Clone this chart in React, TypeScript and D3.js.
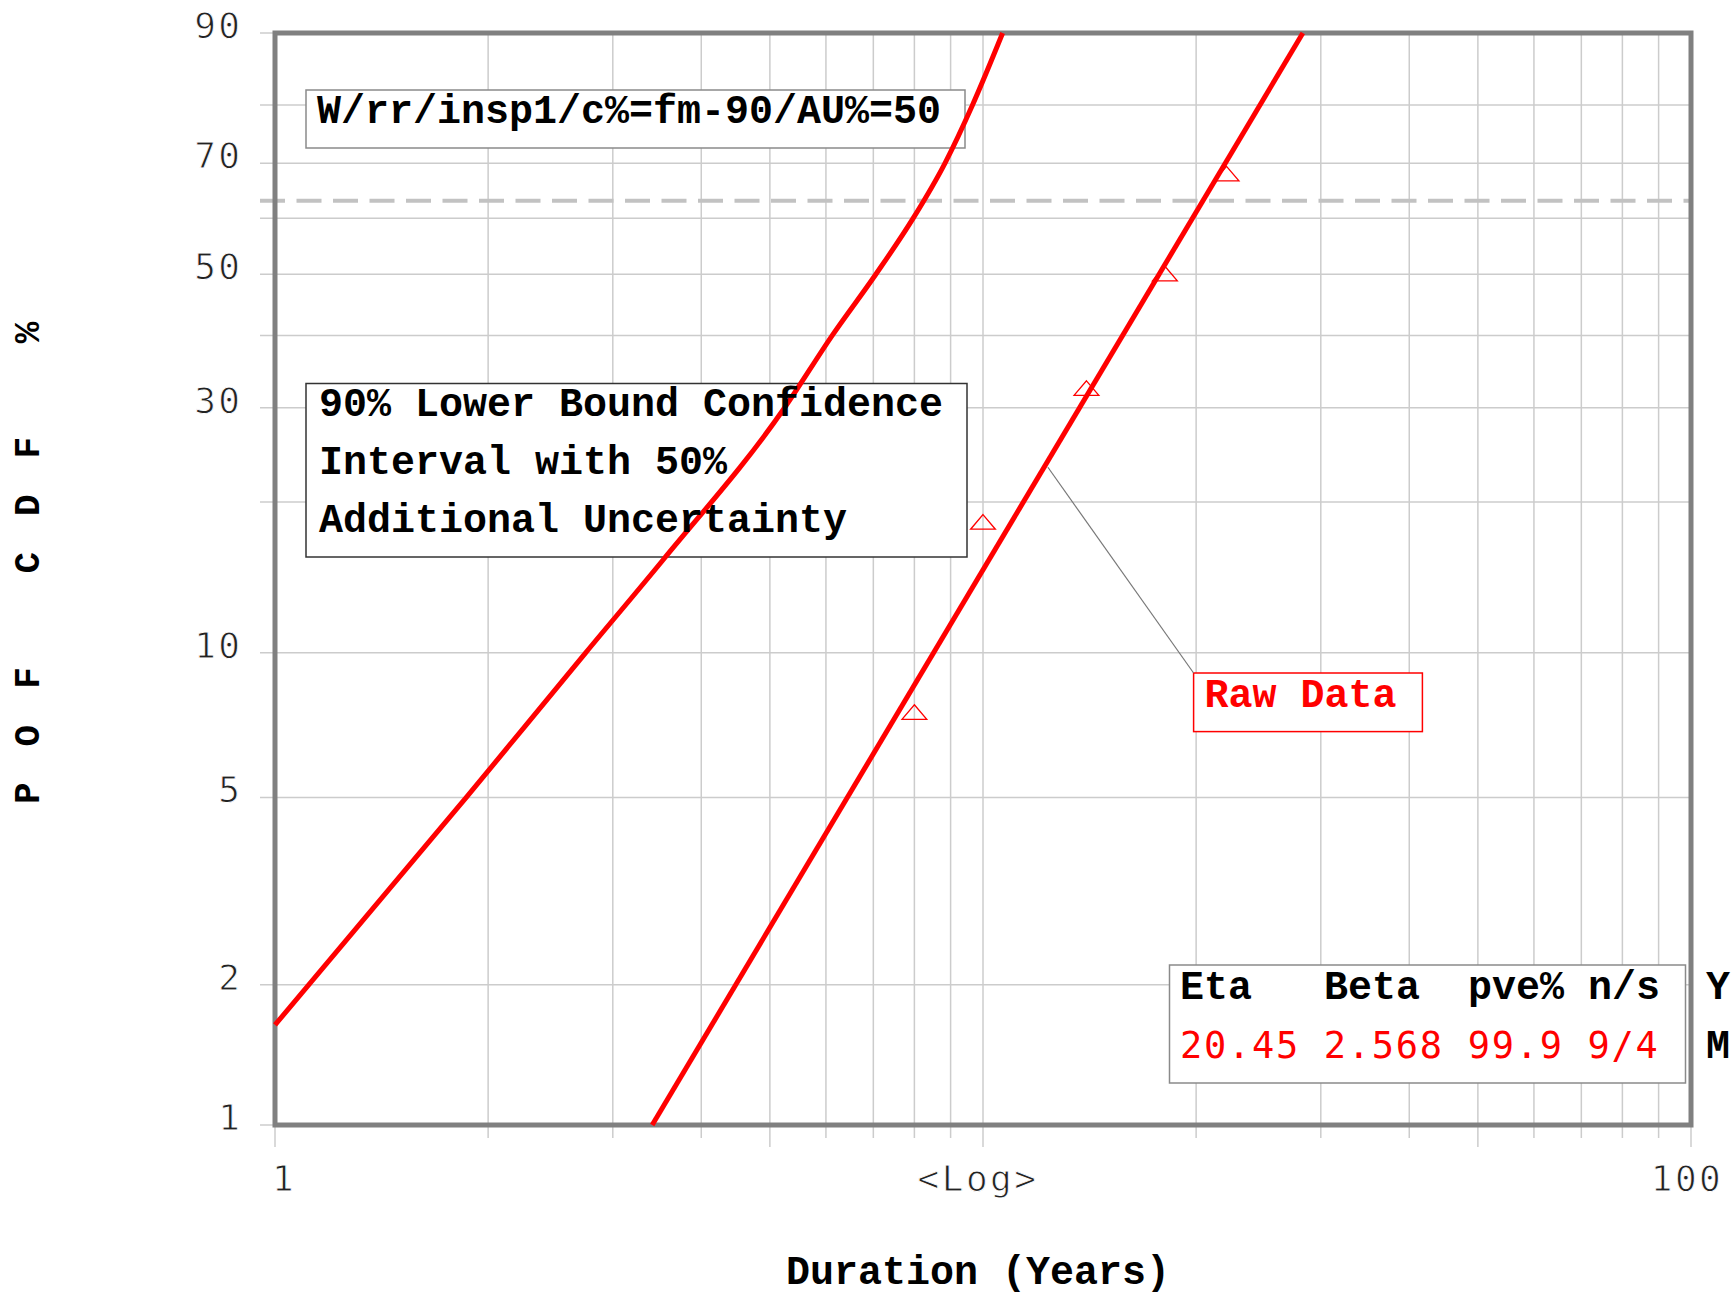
import React, { useEffect, useRef } from 'react';
import * as d3 from 'd3';

// gridlines on the Weibull probability axis (%) and the log time axis
const yGrid = [1, 2, 5, 10, 20, 30, 40, 50, 60, 70, 80, 90];
const yTickLabels = [1, 2, 5, 10, 30, 50, 70, 90];
const xGrid = [1, 2, 3, 4, 5, 6, 7, 8, 9, 10, 20, 30, 40, 50, 60, 70, 80, 90, 100];
const xLongTicks = [1, 5, 10, 50, 100];
const xTickValues = [1, 10, 100];
const xTickLabels = ['1', '<Log>', '100'];

// raw data (years, median rank %)
const rawT = [8, 10, 14, 18.07, 22.08];
const rawP = [7.46, 18.1, 32.2, 49.7, 67.7];

// fitted weibull line, end points
const fitT = [3.41, 28.3];
const fitP = [1, 90];

// 90% lower bound with 50% additional uncertainty
const lbT = [1, 1.863, 2.746, 3.532, 5.245, 6.122, 7.058, 7.97, 8.835, 9.665, 10.66];
const lbP = [1.64, 5, 10, 15.4, 30, 40, 50, 60, 70, 80, 90];

const charLifeP = 63.2;
const leaderT = 12.35;
const leaderP = 23.3;

const titleText = 'W/rr/insp1/c%=fm-90/AU%=50';
const noteLines = ['90% Lower Bound Confidence', 'Interval with 50%', 'Additional Uncertainty'];
const legendHead = 'Eta   Beta  pve% n/s';
const legendVals = '20.45 2.568 99.9 9/4';

const W = 1733, H = 1298;
const margin = { left: 275, right: 42, top: 33, bottom: 173 };
const BOLD = '"Liberation Mono", "Courier New", monospace';
const THIN = '"DejaVu Sans Mono", monospace';

const weib = (p: number) => Math.log(-Math.log(1 - p / 100));

export default function App() {
  const ref = useRef<SVGSVGElement>(null);

  useEffect(() => {
    const svg = d3.select(ref.current);
    svg.selectAll('*').remove();

    const x0 = margin.left, x1 = W - margin.right;
    const y0 = margin.top, y1 = H - margin.bottom;

    const x = d3.scaleLog().domain([1, 100]).range([x0, x1]);
    const yw = d3.scaleLinear().domain([weib(1), weib(90)]).range([y1, y0]);
    const y = (p: number) => yw(weib(p));

    svg.append('rect').attr('width', W).attr('height', H).attr('fill', '#fff');

    // grid
    svg.selectAll('.hg').data(yGrid).enter().append('line')
      .attr('x1', x0 - 15).attr('x2', x1)
      .attr('y1', d => y(d)).attr('y2', d => y(d))
      .attr('stroke', '#cccccc').attr('stroke-width', 1.5);

    svg.selectAll('.vg').data(xGrid).enter().append('line')
      .attr('x1', d => x(d)).attr('x2', d => x(d))
      .attr('y1', y0).attr('y2', d => y1 + (xLongTicks.includes(d) ? 22 : 13))
      .attr('stroke', '#cccccc').attr('stroke-width', 1.5);

    // 63.2% line
    svg.append('line')
      .attr('x1', x0 - 15).attr('x2', x1)
      .attr('y1', y(charLifeP)).attr('y2', y(charLifeP))
      .attr('stroke', '#c2c2c2').attr('stroke-width', 4)
      .attr('stroke-dasharray', '25 11.5');

    // text boxes
    svg.append('rect').attr('x', 306).attr('y', 90).attr('width', 659).attr('height', 58)
      .attr('fill', '#fff').attr('stroke', '#8a8a8a').attr('stroke-width', 1.5);
    svg.append('rect').attr('x', 306).attr('y', 383.5).attr('width', 661).attr('height', 173.5)
      .attr('fill', '#fff').attr('stroke', '#333').attr('stroke-width', 1.5);
    svg.append('rect').attr('x', 1169.5).attr('y', 965).attr('width', 516).attr('height', 118)
      .attr('fill', '#fff').attr('stroke', '#8a8a8a').attr('stroke-width', 1.5);
    svg.append('rect').attr('x', 1193.6).attr('y', 673).attr('width', 228.8).attr('height', 58.6)
      .attr('fill', '#fff').attr('stroke', '#ff0000').attr('stroke-width', 1.5);

    // plot frame
    svg.append('rect').attr('x', x0).attr('y', y0).attr('width', x1 - x0).attr('height', y1 - y0)
      .attr('fill', 'none').attr('stroke', '#808080').attr('stroke-width', 5);

    // leader from line to "Raw Data"
    svg.append('line')
      .attr('x1', x(leaderT)).attr('y1', y(leaderP))
      .attr('x2', 1193.6).attr('y2', 673)
      .attr('stroke', '#777').attr('stroke-width', 1.2);

    const fitLine = d3.line<[number, number]>()
      .x(d => x(d[0])).y(d => y(d[1]));
    const boundLine = d3.line<[number, number]>()
      .x(d => x(d[0])).y(d => y(d[1]))
      .curve(d3.curveMonotoneX);

    svg.append('path')
      .datum(fitT.map((t, i) => [t, fitP[i]] as [number, number]))
      .attr('fill', 'none').attr('stroke', '#ff0000').attr('stroke-width', 5)
      .attr('d', fitLine);

    svg.append('path')
      .datum(lbT.map((t, i) => [t, lbP[i]] as [number, number]))
      .attr('fill', 'none').attr('stroke', '#ff0000').attr('stroke-width', 5)
      .attr('d', boundLine);

    // raw data triangles
    const tri = d3.symbol().type(d3.symbolTriangle).size(170);
    svg.selectAll('.pt').data(rawT).enter().append('path')
      .attr('d', tri)
      .attr('transform', (d, i) => `translate(${x(d)},${y(rawP[i])}) scale(1.25,0.85)`)
      .attr('fill', 'none').attr('stroke', '#ff0000').attr('stroke-width', 1.3)
      .attr('vector-effect', 'non-scaling-stroke');

    // tick labels
    svg.selectAll('.yl').data(yTickLabels).enter().append('text')
      .attr('x', 242.5).attr('y', d => y(d) + 5)
      .attr('text-anchor', 'end')
      .attr('font-family', THIN).attr('font-size', 36)
      .attr('letter-spacing', 2.5)
      .attr('fill', '#222').attr('stroke', '#fff').attr('stroke-width', 0.9)
      .text(d => String(d));

    svg.selectAll('.xl').data(xTickValues).enter().append('text')
      .attr('x', (d, i) => x(d) + (i === 0 ? 9 : i === 1 ? -5 : -4))
      .attr('y', 1191)
      .attr('text-anchor', 'middle')
      .attr('font-family', THIN).attr('font-size', 36)
      .attr('letter-spacing', 2.5)
      .attr('fill', '#222').attr('stroke', '#fff').attr('stroke-width', 0.9)
      .text((d, i) => xTickLabels[i]);

    // axis titles
    svg.append('text')
      .attr('x', 978).attr('y', 1284)
      .attr('text-anchor', 'middle')
      .attr('font-family', BOLD).attr('font-weight', 'bold').attr('font-size', 40)
      .attr('fill', '#000')
      .text('Duration (Years)');

    svg.append('text')
      .attr('transform', 'translate(39,804) rotate(-90)')
      .attr('font-family', BOLD).attr('font-weight', 'bold').attr('font-size', 36)
      .attr('letter-spacing', 36)
      .attr('fill', '#000')
      .style('white-space', 'pre')
      .text('POF CDF %');

    // boxed texts
    svg.append('text')
      .attr('x', 317).attr('y', 122.7)
      .attr('font-family', BOLD).attr('font-weight', 'bold').attr('font-size', 40)
      .attr('fill', '#000')
      .text(titleText);

    svg.selectAll('.note').data(noteLines).enter().append('text')
      .attr('x', 319).attr('y', (d, i) => 415.6 + i * 58)
      .attr('font-family', BOLD).attr('font-weight', 'bold').attr('font-size', 40)
      .attr('fill', '#000')
      .style('white-space', 'pre')
      .text(d => d);

    svg.append('text')
      .attr('x', 1180).attr('y', 999)
      .attr('font-family', BOLD).attr('font-weight', 'bold').attr('font-size', 40)
      .attr('fill', '#000')
      .style('white-space', 'pre')
      .text(legendHead);

    svg.append('text')
      .attr('x', 1180).attr('y', 1057.7)
      .attr('font-family', THIN).attr('font-size', 37)
      .attr('letter-spacing', 1.7)
      .attr('fill', '#ff0000')
      .style('white-space', 'pre')
      .text(legendVals);

    // date stamp at the right edge
    svg.append('text').attr('x', 1706).attr('y', 999)
      .attr('font-family', BOLD).attr('font-weight', 'bold').attr('font-size', 40)
      .attr('fill', '#000').text('Y');
    svg.append('text').attr('x', 1706).attr('y', 1057.7)
      .attr('font-family', BOLD).attr('font-weight', 'bold').attr('font-size', 40)
      .attr('fill', '#000').text('M');

    svg.append('text')
      .attr('x', 1204.6).attr('y', 707)
      .attr('font-family', BOLD).attr('font-weight', 'bold').attr('font-size', 40)
      .attr('fill', '#ff0000')
      .text('Raw Data');
  }, []);

  return (
    <div style={{ position: 'absolute', left: 0, top: 0 }}>
      <svg ref={ref} width={W} height={H} style={{ display: 'block' }} />
    </div>
  );
}
